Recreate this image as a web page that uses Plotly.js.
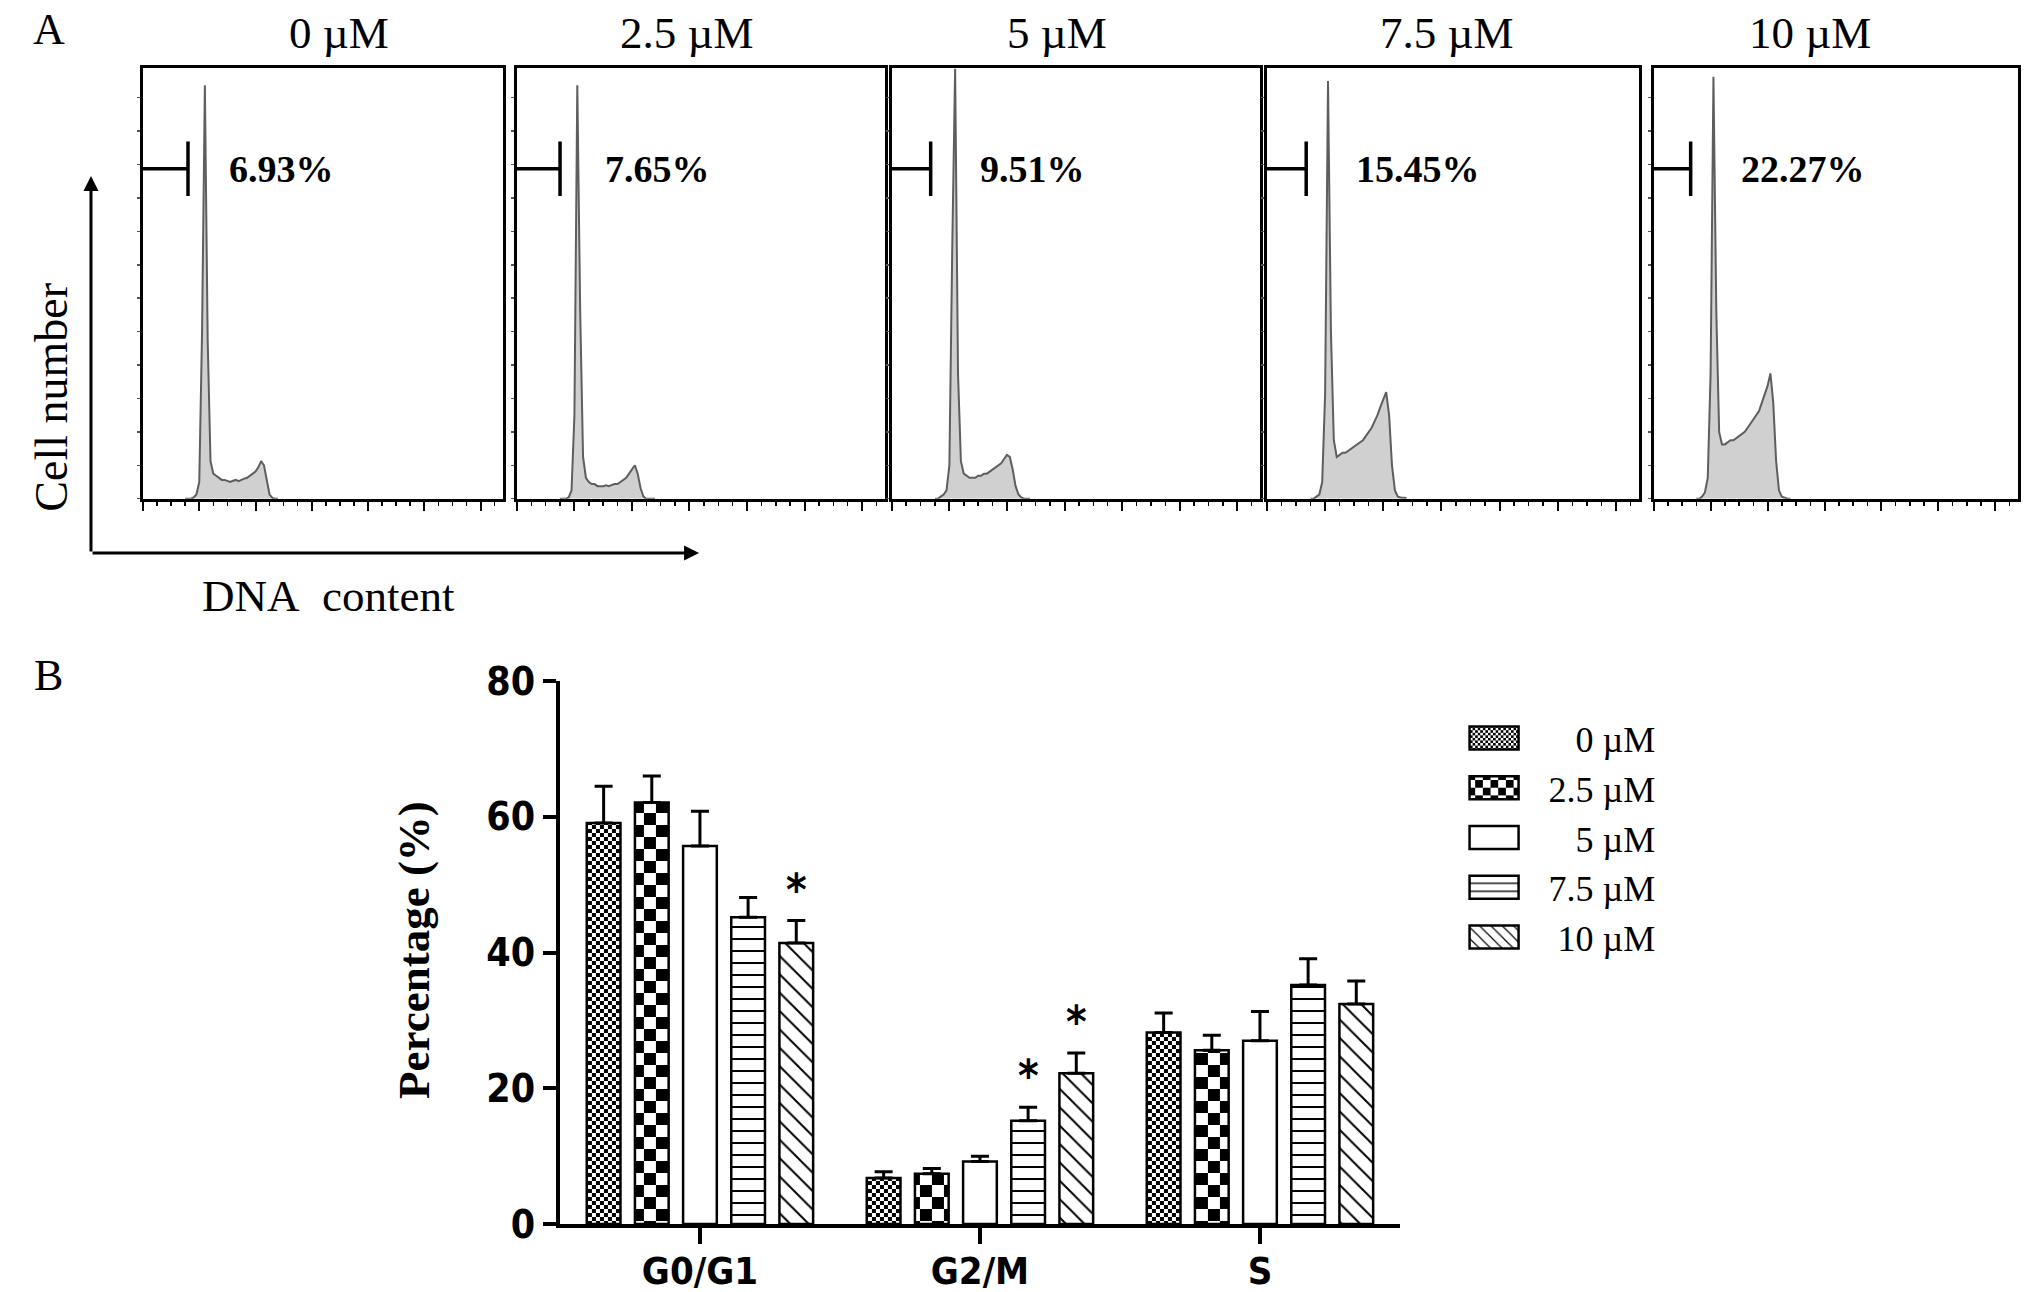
<!DOCTYPE html>
<html>
<head>
<meta charset="utf-8">
<script src="https://cdn.plot.ly/plotly-3.0.1.min.js"></script>
<style>body{margin:0;background:#fff}</style>
</head>
<body>
<div id="fig" style="width:2031px;height:1292px"></div>
<script>
// panel A: DNA content histograms
var doses = ['0 µM', '2.5 µM', '5 µM', '7.5 µM', '10 µM'];
var gatePct = ['6.93%', '7.65%', '9.51%', '15.45%', '22.27%'];
var gateEnd = [32, 30, 27, 27, 26];
var gateLevel = 79;
var channels = [30,32,34,36,38,40,42,44,46,48,50,52,54,56,58,60,62,64,66,68,70,72,74,76,78,80,82,84,86,88,90,92,94,96];
var hist0   = [0,0,0,0.3,1,4,40,99,38,9,6,5.5,5,4.5,4.5,4.2,4,4.3,4.5,4.2,4.6,4.8,5,5.5,6,6.5,7.5,9,8,4,1,0.2,0,0];
var hist2_5 = [0,0,0,0.3,2,20,99,45,10,5,4,3.5,3.5,3,3,3,3.2,3,3.3,3.5,3.5,4,4.5,5,6,7,8,6,2.5,0.5,0,0,0,0];
var hist5   = [0,0,0.5,1,2,8,60,103,30,9,6,5.5,5,5,5,5.5,5.5,6,6,6.5,7,7.5,8,8.5,9.5,10.5,10,7,3,1,0.3,0,0,0];
var hist7_5 = [0,0,0.5,1,4,25,100,40,14,10,10.5,11,11,11.5,12,12.5,13,13.5,14,15,16,17,18.5,20,22,24,25.5,20,8,2,0.5,0.3,0.2,0.2];
var hist10  = [0,0,0.5,1.5,5,30,101,45,16,13,13,13.5,14,14,14.5,15,15.5,16,17,18,19,20,21,23,25,27,30,23,9,2,0.5,0.2,0,0];
var histList = [hist0, hist2_5, hist5, hist7_5, hist10];

// panel B: cell cycle phase percentages
var phases = ['G0/G1', 'G2/M', 'S'];
var mean0   = [59.1, 6.8, 28.2];  var err0   = [5.4, 0.9, 2.9];
var mean2_5 = [62.1, 7.4, 25.6];  var err2_5 = [3.9, 0.8, 2.2];
var mean5   = [55.7, 9.2, 27.0];  var err5   = [5.1, 0.8, 4.3];
var mean7_5 = [45.2, 15.2, 35.2]; var err7_5 = [2.9, 2.0, 3.9];
var mean10  = [41.4, 22.2, 32.4]; var err10  = [3.3, 3.0, 3.4];
var starPhase = ['G0/G1', 'G2/M', 'G2/M'];
var starDose = [4, 3, 4];

var serif = 'Liberation Serif, Times New Roman, serif';
var narrow = 'Liberation Sans Narrow, Arial Narrow, DejaVu Sans Condensed, Liberation Sans, Arial, sans-serif';

var panelX = [[0.0704, 0.2477], [0.2545, 0.4358], [0.4391, 0.6205], [0.6238, 0.8071], [0.8142, 0.9937]];
var panelY = [0.614, 0.947];
var titleX = [0.1667, 0.3378, 0.5205, 0.7123, 0.8911];

var data = [];
var layout = {
  width: 2031, height: 1292,
  margin: {l: 0, r: 0, t: 0, b: 0},
  paper_bgcolor: '#fff', plot_bgcolor: '#fff',
  showlegend: true,
  bargap: 0.14, bargroupgap: 0.3,
  annotations: [],
  legend: {
    x: 0.728, y: 0.452, xanchor: 'left', yanchor: 'top',
    font: {family: serif, size: 36, color: '#000'},
    bgcolor: 'rgba(0,0,0,0)', tracegroupgap: 2, itemwidth: 60
  }
};

function note(o) {
  o.showarrow = o.showarrow || false;
  if (!o.xanchor) o.xanchor = 'center';
  if (!o.yanchor) o.yanchor = 'middle';
  layout.annotations.push(o);
}

for (var i = 0; i < 5; i++) {
  var n = i === 0 ? '' : String(i + 1);
  var xa = 'x' + n, ya = 'y' + n;
  data.push({
    x: channels, y: histList[i], type: 'scatter', mode: 'lines',
    fill: 'tozeroy', fillcolor: '#d0d0d0',
    line: {color: '#5e5e5e', width: 2},
    xaxis: xa, yaxis: ya, showlegend: false, hoverinfo: 'skip'
  });
  // gate marker
  data.push({
    x: [-8, gateEnd[i], null, gateEnd[i], gateEnd[i]],
    y: [gateLevel, gateLevel, null, gateLevel - 6.5, gateLevel + 6.5],
    type: 'scatter', mode: 'lines', line: {color: '#000', width: 3.5},
    xaxis: xa, yaxis: ya, showlegend: false, hoverinfo: 'skip', cliponaxis: false
  });
  layout['xaxis' + n] = {
    domain: panelX[i], range: [0, 256], anchor: ya,
    showline: true, mirror: true, linecolor: '#000', linewidth: 3,
    showgrid: false, zeroline: false, showticklabels: false,
    ticks: 'outside', dtick: 40, tick0: 0, ticklen: 9, tickwidth: 2, tickcolor: '#000',
    minor: {ticks: 'outside', dtick: 10, ticklen: 4, tickwidth: 1.5, tickcolor: '#000'}
  };
  layout['yaxis' + n] = {
    domain: panelY, range: [0, 103], anchor: xa,
    showline: true, mirror: true, linecolor: '#000', linewidth: 3,
    showgrid: false, zeroline: false, showticklabels: false,
    ticks: 'outside', dtick: 8, ticklen: 3, tickwidth: 1.5, tickcolor: '#555'
  };
  note({xref: 'paper', yref: 'paper', x: titleX[i], y: 0.9745,
        text: doses[i], font: {family: serif, size: 45, color: '#000'}});
  note({xref: xa, yref: ya, x: 60, y: gateLevel, xanchor: 'left',
        text: '<b>' + gatePct[i] + '</b>', font: {family: serif, size: 38, color: '#000'}});
}

// bar chart
var means = [mean0, mean2_5, mean5, mean7_5, mean10];
var errs = [err0, err2_5, err5, err7_5, err10];
var patterns = [
  {shape: '.', size: 8, solidity: 0.45, fgcolor: '#000', bgcolor: '#fff', fillmode: 'replace'},
  {shape: '.', size: 24, solidity: 0.5, fgcolor: '#000', bgcolor: '#fff', fillmode: 'replace'},
  {shape: '', fgcolor: '#000', bgcolor: '#fff'},
  {shape: '-', size: 12, solidity: 0.17, fgcolor: '#000', bgcolor: '#fff', fillmode: 'replace'},
  {shape: '\\', size: 13, solidity: 0.15, fgcolor: '#000', bgcolor: '#fff', fillmode: 'replace'}
];
// checkerboard square size for the two checker fills
var checkerSize = {'0 µM': 4, '2.5 µM': 12};

for (var j = 0; j < 5; j++) {
  data.push({
    x: phases, y: means[j], name: doses[j], type: 'bar',
    xaxis: 'x6', yaxis: 'y6',
    marker: {color: '#fff', line: {color: '#000', width: 2.5}, pattern: patterns[j]},
    error_y: {type: 'data', symmetric: false, array: errs[j], arrayminus: [0, 0, 0],
              color: '#000', thickness: 3, width: 9}
  });
}

var bx = [0.2757, 0.6893];
layout.xaxis6 = {
  domain: bx, anchor: 'y6', type: 'category',
  showline: true, linecolor: '#000', linewidth: 4, showgrid: false, zeroline: false,
  ticks: 'outside', ticklen: 16, tickwidth: 4, tickcolor: '#000',
  ticklabelstandoff: -6,
  tickfont: {family: narrow, size: 38, color: '#000', weight: 'bold'}
};
layout.yaxis6 = {
  domain: [0.0526, 0.4729], anchor: 'x6', range: [0, 80],
  showline: true, linecolor: '#000', linewidth: 4, showgrid: false, zeroline: false,
  tickvals: [0, 20, 40, 60, 80],
  ticks: 'outside', ticklen: 13, tickwidth: 4, tickcolor: '#000',
  tickfont: {family: narrow, size: 39, color: '#000', weight: 'bold'}
};

// star markers for significant bars
var catPx = (bx[1] - bx[0]) * 2031 / phases.length;
var pitch = catPx * (1 - layout.bargap) / doses.length;
for (var k = 0; k < starPhase.length; k++) {
  var p = phases.indexOf(starPhase[k]);
  var d = starDose[k];
  note({xref: 'x6', yref: 'y6', x: starPhase[k], y: means[d][p] + errs[d][p],
        xshift: (d - 2) * pitch, yshift: 4, yanchor: 'bottom',
        text: '<b>*</b>', font: {family: narrow, size: 44, color: '#000'}});
}

note({xref: 'paper', yref: 'paper', x: 0.2038, y: 0.2647, textangle: -90,
      text: '<b>Percentage (%)</b>', font: {family: serif, size: 45, color: '#000'}});
note({xref: 'paper', yref: 'paper', x: 0.0241, y: 0.977, text: 'A',
      font: {family: serif, size: 44, color: '#000'}});
note({xref: 'paper', yref: 'paper', x: 0.0241, y: 0.477, text: 'B',
      font: {family: serif, size: 44, color: '#000'}});
note({xref: 'paper', yref: 'paper', x: 0.0256, y: 0.693, textangle: -90, text: 'Cell number',
      font: {family: serif, size: 46, color: '#000'}});
note({xref: 'paper', yref: 'paper', x: 0.1615, y: 0.539, text: 'DNA&nbsp;&nbsp;content',
      font: {family: serif, size: 45, color: '#000'}});
layout.annotations.push(
  {xref: 'paper', yref: 'paper', x: 0.0448, y: 0.8638, text: '', showarrow: true,
   axref: 'pixel', ayref: 'pixel', ax: 0, ay: 377, arrowhead: 2, arrowsize: 1, arrowwidth: 3,
   arrowcolor: '#000', standoff: 0},
  {xref: 'paper', yref: 'paper', x: 0.3442, y: 0.572, text: '', showarrow: true,
   axref: 'pixel', ayref: 'pixel', ax: -608, ay: 0, arrowhead: 2, arrowsize: 1, arrowwidth: 3,
   arrowcolor: '#000', standoff: 0}
);

function setChecker(el, s) {
  var fill = el.style.fill || el.getAttribute('fill') || '';
  var m = /#([^"')]+)/.exec(fill);
  if (!m) return;
  var pat = document.getElementById(m[1]);
  if (!pat) return;
  pat.setAttribute('width', 2 * s);
  pat.setAttribute('height', 2 * s);
  pat.innerHTML = '<rect width="' + 2 * s + '" height="' + 2 * s + '" fill="#fff"></rect>' +
    '<rect width="' + s + '" height="' + s + '" fill="#000"></rect>' +
    '<rect x="' + s + '" y="' + s + '" width="' + s + '" height="' + s + '" fill="#000"></rect>';
}

function traceName(g) {
  var dd = g.__data__;
  if (dd && dd[0] && dd[0].trace) return dd[0].trace.name;
  return null;
}

Plotly.newPlot('fig', data, layout, {displayModeBar: false, staticPlot: true}).then(function (gd) {
  // checkerboard fills on bars
  gd.querySelectorAll('.barlayer .trace').forEach(function (g) {
    var s = checkerSize[traceName(g)];
    if (!s) return;
    g.querySelectorAll('path').forEach(function (el) { setChecker(el, s); });
  });
  // let the wider legend boxes show in full
  gd.querySelectorAll('.legend .scrollbox, .legend').forEach(function (el) {
    el.removeAttribute('clip-path');
    el.style.clipPath = 'none';
  });
  // wider legend boxes, right-aligned labels
  var texts = [];
  gd.querySelectorAll('.legend .traces').forEach(function (g) {
    var s = checkerSize[traceName(g)];
    g.querySelectorAll('.legendpoints path').forEach(function (el) {
      el.setAttribute('d', 'M-44,-11.5H5V11.5H-44Z');
      if (s) setChecker(el, Math.max(3, s * 0.8));
    });
    var t = g.querySelector('.legendtext');
    if (t) texts.push(t);
  });
  var maxW = 0;
  texts.forEach(function (t) { maxW = Math.max(maxW, t.getComputedTextLength()); });
  texts.forEach(function (t) {
    t.setAttribute('transform', 'translate(' + (maxW - t.getComputedTextLength()) + ',0)');
  });
});
</script>
</body>
</html>
